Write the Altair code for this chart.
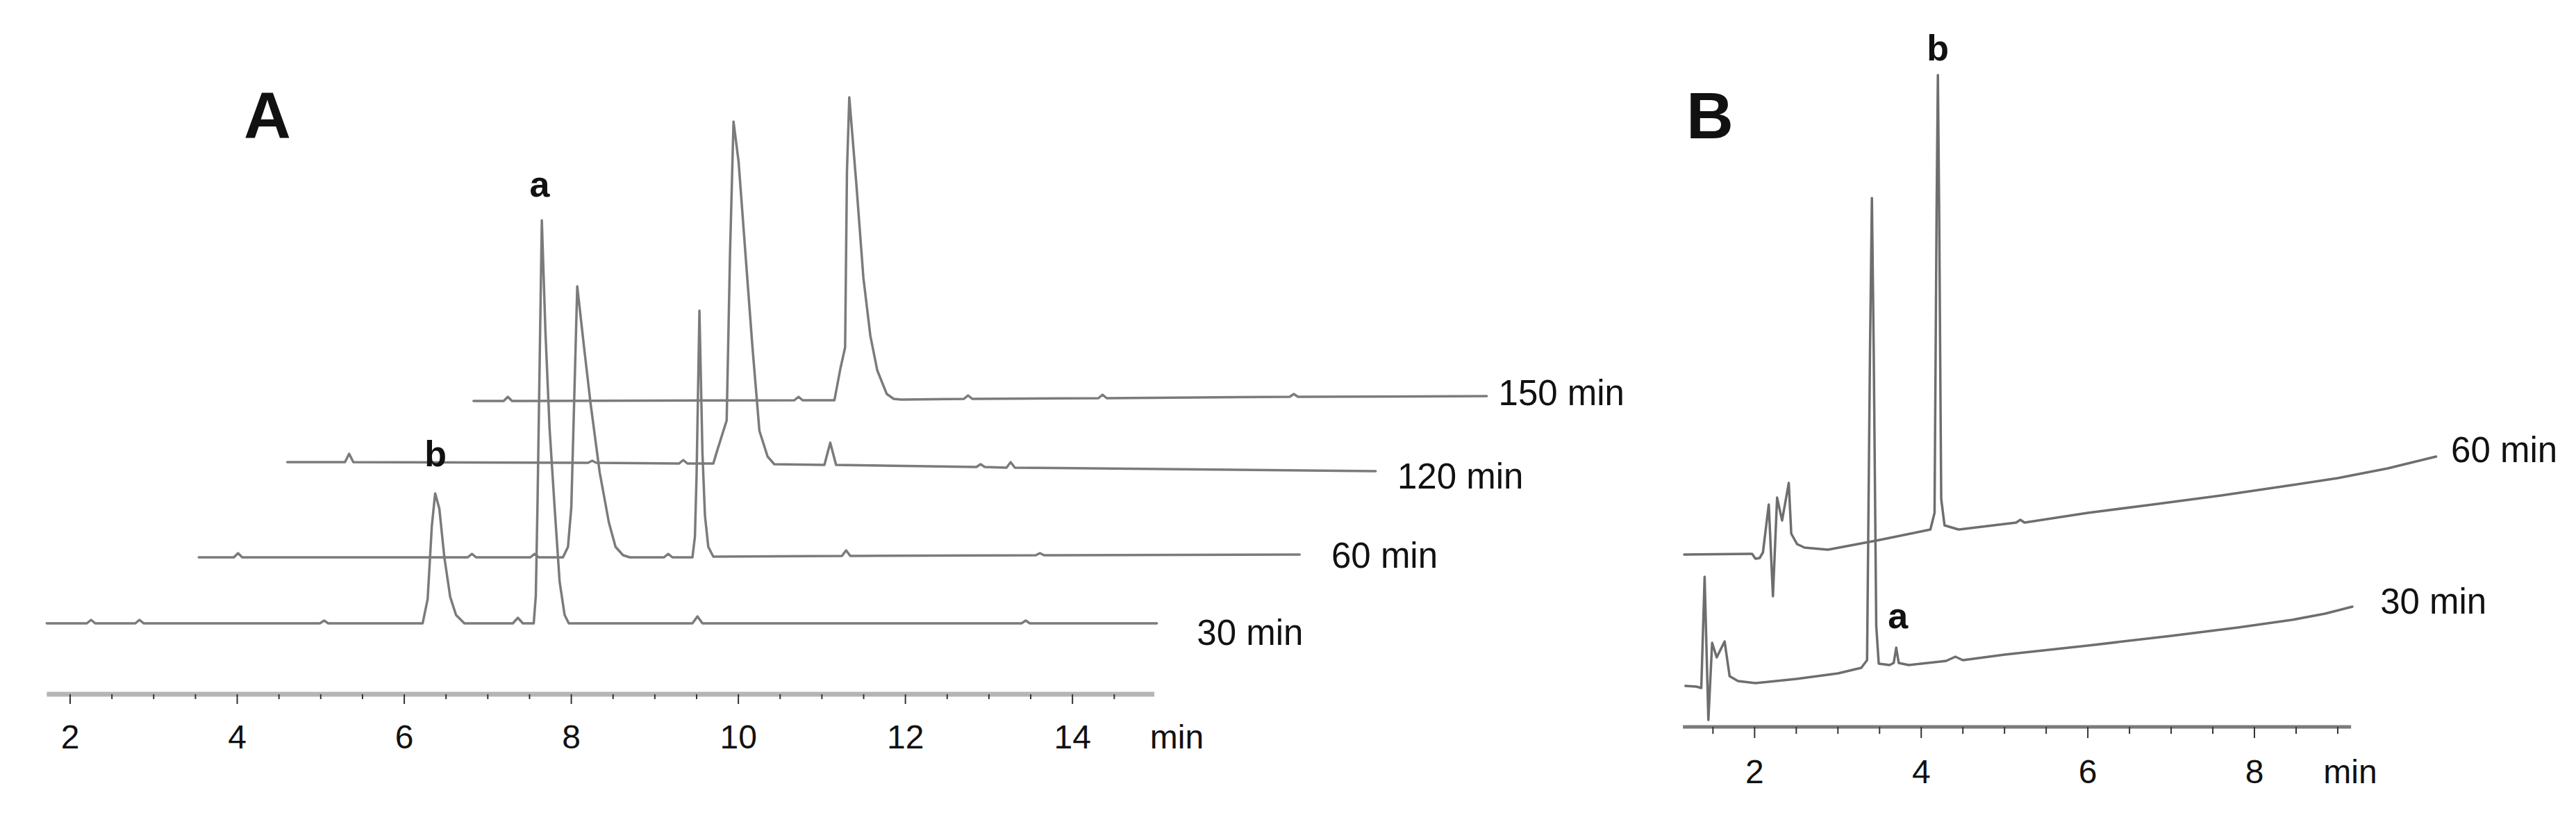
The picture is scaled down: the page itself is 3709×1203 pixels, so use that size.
import altair as alt
import pandas as pd

# ---------------- Panel A: chromatograms after 30, 60, 120 and 150 min ----------------
A_RUNS = ["30 min", "60 min", "120 min", "150 min"]
A_OFFSET = [102, 197, 334, 422]          # vertical stacking of the traces

A30_T = [1.72, 2.20, 2.25, 2.30, 2.78, 2.83, 2.88, 4.99, 5.04, 5.09, 6.22, 6.28, 6.33, 6.37,
         6.42, 6.48, 6.55, 6.62, 6.72, 7.30, 7.36, 7.42, 7.55, 7.575, 7.595, 7.647, 7.69,
         7.74, 7.80, 7.86, 7.92, 7.97, 9.45, 9.51, 9.57, 13.39, 13.44, 13.49, 15.01]
A30_R = [0, 0, 5, 0, 0, 5, 0, 0, 4, 0, 0, 35, 140, 187,
         165, 95, 38, 12, 0, 0, 8, 0, 0, 40, 170, 580, 420,
         280, 167, 60, 12, 0, 0, 10, 0, 0, 4, 0, 0]

A60_T = [3.54, 3.96, 4.01, 4.06, 6.76, 6.81, 6.86, 7.51, 7.56, 7.61, 7.90, 7.96, 8.00, 8.071,
         8.15, 8.23, 8.34, 8.45, 8.53, 8.62, 8.70, 9.11, 9.16, 9.21, 9.45, 9.48, 9.50, 9.534,
         9.57, 9.60, 9.64, 9.70, 11.24, 11.29, 11.34, 13.56, 13.61, 13.66, 16.72]
A60_R = [0, 0, 6, 0, 0, 5, 0, 0, 5, 0, 0, 15, 72, 390,
         305, 222, 122, 50, 15, 3, 0, 0, 5, 0, 0, 30, 120, 355,
         150, 60, 15, 1, 2, 10, 2, 3, 6, 3, 4]

A120_T = [4.60, 5.29, 5.34, 5.39, 8.20, 8.25, 8.30, 9.29, 9.34, 9.39, 9.70, 9.75, 9.86, 9.90,
          9.942, 10.003, 10.086, 10.169, 10.252, 10.35, 10.43, 11.03, 11.10, 11.17, 12.85,
          12.90, 12.95, 13.21, 13.26, 13.31, 17.63]
A120_R = [0, 0, 12, 0, -1, 2, -1, -2, 3, -2, -2, 18, 60, 300,
          490, 432, 298, 165, 45, 8, -3, -4, 28, -4, -7,
          -3, -7, -8, 0, -8, -13]

A150_T = [6.83, 7.19, 7.24, 7.29, 10.67, 10.72, 10.77, 11.15, 11.222, 11.278, 11.30, 11.328,
          11.414, 11.497, 11.580, 11.663, 11.777, 11.86, 11.95, 12.70, 12.75, 12.80, 14.31,
          14.36, 14.41, 16.60, 16.65, 16.70, 18.96]
A150_R = [0, 0, 6, 0, 1, 6, 1, 1, 47, 77, 330, 437,
          310, 177, 94, 44, 10, 3, 2, 3, 8, 3, 4,
          9, 4, 6, 10, 6, 7]

A_TIMES = [A30_T, A60_T, A120_T, A150_T]
A_RESP = [A30_R, A60_R, A120_R, A150_R]

A_MAJOR = [2, 4, 6, 8, 10, 12, 14]
A_MINOR = [2.5, 3, 3.5, 4.5, 5, 5.5, 6.5, 7, 7.5, 8.5, 9, 9.5, 10.5, 11, 11.5,
           12.5, 13, 13.5, 14.5]
A_AXIS_RANGE = [1.72, 14.98]

# ---------------- Panel B: chromatograms after 30 and 60 min ----------------
B_RUNS = ["30 min", "60 min"]
B_OFFSET = [59, 248]

B30_T = [1.17, 1.30, 1.36, 1.40, 1.445, 1.49, 1.545, 1.64, 1.70, 1.80, 2.01, 2.50, 3.00, 3.28,
         3.35, 3.385, 3.408, 3.43, 3.46, 3.49, 3.62, 3.67, 3.70, 3.73, 3.85, 4.30, 4.41, 4.50,
         5.00, 6.00, 7.00, 7.80, 8.45, 8.85, 9.175]
B30_R = [0, -1, -3, 157, -49, 62, 41, 64, 14, 7, 4, 10, 18, 26,
         37, 480, 702, 480, 87, 32, 30, 33, 55, 33, 30, 36, 42, 37,
         45, 58, 72, 84, 95, 104, 114]

B60_T = [1.155, 1.92, 1.97, 2.01, 2.06, 2.10, 2.17, 2.22, 2.27, 2.33, 2.41, 2.44, 2.51, 2.60,
         2.88, 3.50, 4.11, 4.16, 4.185, 4.20, 4.215, 4.24, 4.28, 4.45, 5.14, 5.19, 5.24, 6.00,
         6.78, 7.60, 8.45, 9.00, 9.60, 10.18]
B60_R = [0, 1, 1, -6, -5, 3, 72, -60, 82, 49, 103, 30, 15, 10,
         7, 21, 36, 60, 500, 690, 500, 80, 42, 36, 46, 50, 46, 60,
         72, 85, 100, 110, 124, 141]

B_TIMES = [B30_T, B60_T]
B_RESP = [B30_R, B60_R]

B_MAJOR = [2, 4, 6, 8]
B_MINOR = [1.5, 2.5, 3, 3.5, 4.5, 5, 5.5, 6.5, 7, 7.5, 8.5, 9]
B_AXIS_RANGE = [1.14, 9.16]

FONT = "Liberation Sans"
TRACE_COLOR_A = "#7b7b7b"
TRACE_COLOR_B = "#6e6e6e"


def traces_frame(runs, offsets, times, resps):
    rows = []
    for run, off, ts, rs in zip(runs, offsets, times, resps):
        for i, (t, r) in enumerate(zip(ts, rs)):
            rows.append({"run": run, "i": i, "t": t, "signal": off + r})
    return pd.DataFrame(rows)


def ticks_frame(major, minor, major_len, minor_len):
    rows = [{"t": v, "y0": 0, "y1": -major_len} for v in major]
    rows += [{"t": v, "y0": 0, "y1": -minor_len} for v in minor]
    return pd.DataFrame(rows)


def panel(df, xs, ys, axis_range, major, minor, major_len, minor_len, bar_w, bar_c,
          trace_color, tick_label_y, unit_x, texts, width):
    x_enc = dict(scale=xs, axis=None)
    y_enc = dict(scale=ys, axis=None)

    lines = alt.Chart(df).mark_line(
        color=trace_color, strokeWidth=3.5, strokeJoin="round", strokeCap="round"
    ).encode(
        x=alt.X("t:Q", **x_enc),
        y=alt.Y("signal:Q", **y_enc),
        detail="run:N",
        order="i:Q",
    )

    bar = alt.Chart(pd.DataFrame({"a": [axis_range[0]], "b": [axis_range[1]], "y": [0]})).mark_rule(
        color=bar_c, strokeWidth=bar_w
    ).encode(x=alt.X("a:Q", **x_enc), x2="b:Q", y=alt.Y("y:Q", **y_enc))

    ticks = alt.Chart(ticks_frame(major, minor, major_len, minor_len)).mark_rule(
        color="#333333", strokeWidth=2
    ).encode(x=alt.X("t:Q", **x_enc), y=alt.Y("y0:Q", **y_enc), y2="y1:Q")

    tick_labels = alt.Chart(pd.DataFrame({
        "t": major + [unit_x], "y": [tick_label_y] * (len(major) + 1),
        "label": [str(v) for v in major] + ["min"],
    })).mark_text(font=FONT, fontSize=48, color="#111111", baseline="middle", align="center").encode(
        x=alt.X("t:Q", **x_enc), y=alt.Y("y:Q", **y_enc), text="label:N"
    )

    layers = [lines, bar, ticks, tick_labels]
    for style, tdf in texts:
        layers.append(
            alt.Chart(tdf).mark_text(font=FONT, color="#111111", **style).encode(
                x=alt.X("t:Q", **x_enc), y=alt.Y("y:Q", **y_enc), text="label:N"
            )
        )
    return alt.layer(*layers).properties(width=width, height=1203)


# ---------- panel A ----------
dfA = traces_frame(A_RUNS, A_OFFSET, A_TIMES, A_RESP)
xA = alt.Scale(domain=[1.16, 20.95], nice=False, zero=False)
yA = alt.Scale(domain=[-204, 999], nice=False, zero=False)
textsA = [
    (dict(fontSize=51, align="left", baseline="middle"),
     pd.DataFrame({"t": [15.49, 17.10, 17.89, 19.10], "y": [86, 197, 311, 431],
                   "label": ["30 min", "60 min", "120 min", "150 min"]})),
    (dict(fontSize=52, fontWeight="bold", align="center", baseline="middle"),
     pd.DataFrame({"t": [7.62, 6.375], "y": [732, 344], "label": ["a", "b"]})),
    (dict(fontSize=94, fontWeight="bold", align="center", baseline="alphabetic"),
     pd.DataFrame({"t": [4.36], "y": [800], "label": ["A"]})),
]
chartA = panel(dfA, xA, yA, A_AXIS_RANGE, A_MAJOR, A_MINOR, 14, 7, 7, "#b5b5b5",
               TRACE_COLOR_A, -64, 15.25, textsA, 2380)

# ---------- panel B ----------
dfB = traces_frame(B_RUNS, B_OFFSET, B_TIMES, B_RESP)
xB = alt.Scale(domain=[0.78, 11.86], nice=False, zero=False)
yB = alt.Scale(domain=[-157, 1046], nice=False, zero=False)
textsB = [
    (dict(fontSize=51, align="left", baseline="middle"),
     pd.DataFrame({"t": [9.51, 10.36], "y": [178, 396], "label": ["30 min", "60 min"]})),
    (dict(fontSize=52, fontWeight="bold", align="center", baseline="middle"),
     pd.DataFrame({"t": [3.72, 4.20], "y": [158, 975], "label": ["a", "b"]})),
    (dict(fontSize=94, fontWeight="bold", align="center", baseline="alphabetic"),
     pd.DataFrame({"t": [1.464], "y": [847], "label": ["B"]})),
]
chartB = panel(dfB, xB, yB, B_AXIS_RANGE, B_MAJOR, B_MINOR, 16, 10, 5, "#7a7a7a",
               TRACE_COLOR_B, -67, 9.15, textsB, 1329)

chart = alt.hconcat(chartA, chartB, spacing=0).properties(
    padding=0, background="white"
).configure_view(stroke=None)

chart.save("out.html", embed_options={"renderer": "svg", "actions": False})
